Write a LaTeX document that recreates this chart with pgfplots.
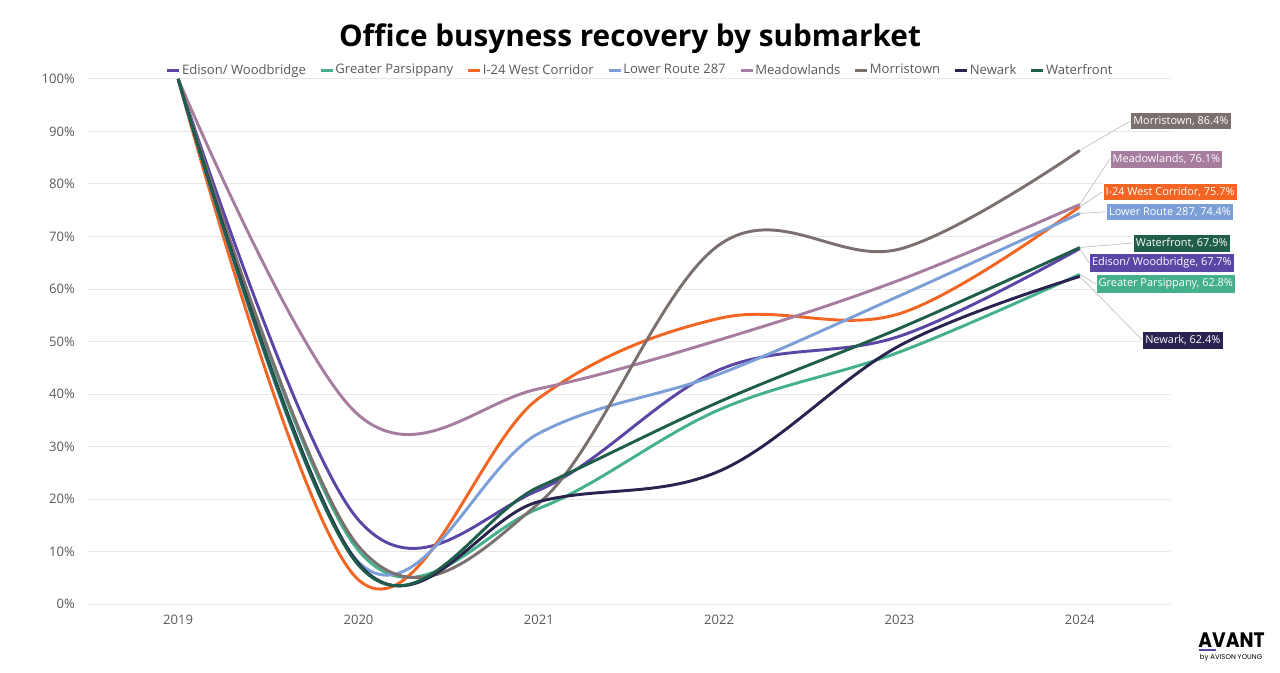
\documentclass[border=0pt]{standalone}
\usepackage{pgfplots}
\pgfplotsset{compat=1.18}
\usepackage{fontspec}
\setmainfont{Open Sans}
\newfontfamily\logofont{Poppins}
\definecolor{cEdi}{HTML}{5B46A6}
\definecolor{cGre}{HTML}{45B08C}
\definecolor{cI24}{HTML}{F26522}
\definecolor{cLow}{HTML}{7B9FD6}
\definecolor{cMea}{HTML}{A67C9F}
\definecolor{cMor}{HTML}{7A716F}
\definecolor{cNew}{HTML}{28244F}
\definecolor{cWat}{HTML}{1F5E4A}
\definecolor{gridgray}{HTML}{E8E8E8}
\definecolor{labelgray}{HTML}{595959}
\definecolor{leadergray}{HTML}{BFBFBF}
\tikzset{
  lbl/.style={font=\fontsize{8.2}{10}\selectfont, text=white, inner xsep=2pt, inner ysep=3pt, draw=white, line width=0.4pt},
  leader/.style={draw=leadergray, line width=0.5pt},
}
\begin{document}
\begin{tikzpicture}
\useasboundingbox (0pt,0pt) rectangle (960pt,504pt);
\node[font=\bfseries\fontsize{22.3}{26}\selectfont] at (472.5pt,475pt) {Office busyness recovery by submarket};
\begin{axis}[
  at={(66pt,51pt)}, anchor=south west,
  width=811.5pt, height=393.75pt, scale only axis,
  xmin=2018.5, xmax=2024.5, ymin=0, ymax=100,
  clip=false,
  axis line style={draw=none},
  xtick={2019,2020,2021,2022,2023,2024},
  xticklabels={2019,2020,2021,2022,2023,2024},
  ytick={0,10,20,30,40,50,60,70,80,90,100},
  yticklabels={0\%,10\%,20\%,30\%,40\%,50\%,60\%,70\%,80\%,90\%,100\%},
  tick style={draw=none},
  ymajorgrids, grid style={color=gridgray, line width=0.75pt},
  tick label style={font=\fontsize{9.8}{12}\selectfont, text=labelgray},
  xticklabel style={yshift=-5pt},
  yticklabel style={xshift=-6.4pt},
  legend columns=8,
  legend style={at={(0.51,1.017)}, anchor=center, draw=none, fill=none,
    font=\fontsize{9.8}{12}\selectfont, text=labelgray,
    nodes={inner sep=1pt},
    /tikz/every even column/.append style={column sep=9pt}},
  legend image code/.code={\draw[#1,line width=2.2pt] (0pt,0pt) -- (9pt,0pt);},
  every axis plot/.append style={smooth, tension=0.6, line width=2.2pt, mark=none},
]
\addplot[cEdi] coordinates {(2019,100) (2020,16) (2021,21.7) (2022,44.6) (2023,51) (2024,67.7)};
\addlegendentry{Edison/ Woodbridge}
\addplot[cGre] coordinates {(2019,100) (2020,10.2) (2021,18.2) (2022,37) (2023,48) (2024,62.8)};
\addlegendentry{Greater Parsippany}
\addplot[cI24] coordinates {(2019,100) (2020,4.6) (2021,39.2) (2022,54.4) (2023,55.3) (2024,75.7)};
\addlegendentry{I-24 West Corridor}
\addplot[cLow] coordinates {(2019,100) (2020,8) (2021,32.5) (2022,43.8) (2023,58.7) (2024,74.4)};
\addlegendentry{Lower Route 287}
\addplot[cMea] coordinates {(2019,100) (2020,36) (2021,41) (2022,50.3) (2023,61.7) (2024,76.1)};
\addlegendentry{Meadowlands}
\addplot[cMor] coordinates {(2019,100) (2020,11) (2021,19.2) (2022,68.4) (2023,67.6) (2024,86.4)};
\addlegendentry{Morristown}
\addplot[cNew] coordinates {(2019,100) (2020,7.7) (2021,19.5) (2022,25.3) (2023,49.2) (2024,62.4)};
\addlegendentry{Newark}
\addplot[cWat] coordinates {(2019,100) (2020,7.4) (2021,22.3) (2022,38.5) (2023,52.5) (2024,67.9)};
\addlegendentry{Waterfront}

\node[lbl, fill=cMor] (mo) at (axis cs:2024.56,92.0) {Morristown, 86.4\%};
\node[lbl, fill=cMea] (me) at (axis cs:2024.48,84.76) {Meadowlands, 76.1\%};
\node[lbl, fill=cI24] (i2) at (axis cs:2024.50,78.5) {I-24 West Corridor, 75.7\%};
\node[lbl, fill=cLow] (lo) at (axis cs:2024.50,74.7) {Lower Route 287, 74.4\%};
\node[lbl, fill=cWat] (wa) at (axis cs:2024.565,68.76) {Waterfront, 67.9\%};
\node[lbl, fill=cEdi] (ed) at (axis cs:2024.455,64.95) {Edison/ Woodbridge, 67.7\%};
\node[lbl, fill=cGre] (gr) at (axis cs:2024.477,60.95) {Greater Parsippany, 62.8\%};
\node[lbl, fill=cNew] (ne) at (axis cs:2024.571,50.29) {Newark, 62.4\%};
\draw[leader] (axis cs:2024,86.4) -- (mo.west);
\draw[leader] (axis cs:2024,76.1) -- (me.west);
\draw[leader] (axis cs:2024,75.7) -- (i2.west);
\draw[leader] (axis cs:2024,74.4) -- (lo.west);
\draw[leader] (axis cs:2024,67.9) -- (wa.west);
\draw[leader] (axis cs:2024,67.7) -- (ed.west);
\draw[leader] (axis cs:2024,62.8) -- (gr.west);
\draw[leader] (axis cs:2024,62.4) -- (ne.west);
\end{axis}
\node[font=\logofont\bfseries\fontsize{14}{16}\selectfont, yscale=1.12, inner sep=0pt] at (923.6pt,24pt) {AVANT};
\draw[color=cEdi, line width=1.5pt] (899.5pt,16.3pt) -- (912pt,16.3pt);
\node[font=\logofont\fontsize{5.2}{6}\selectfont, inner sep=0pt] at (923.3pt,11.0pt) {by AVISON YOUNG};
\end{tikzpicture}
\end{document}
